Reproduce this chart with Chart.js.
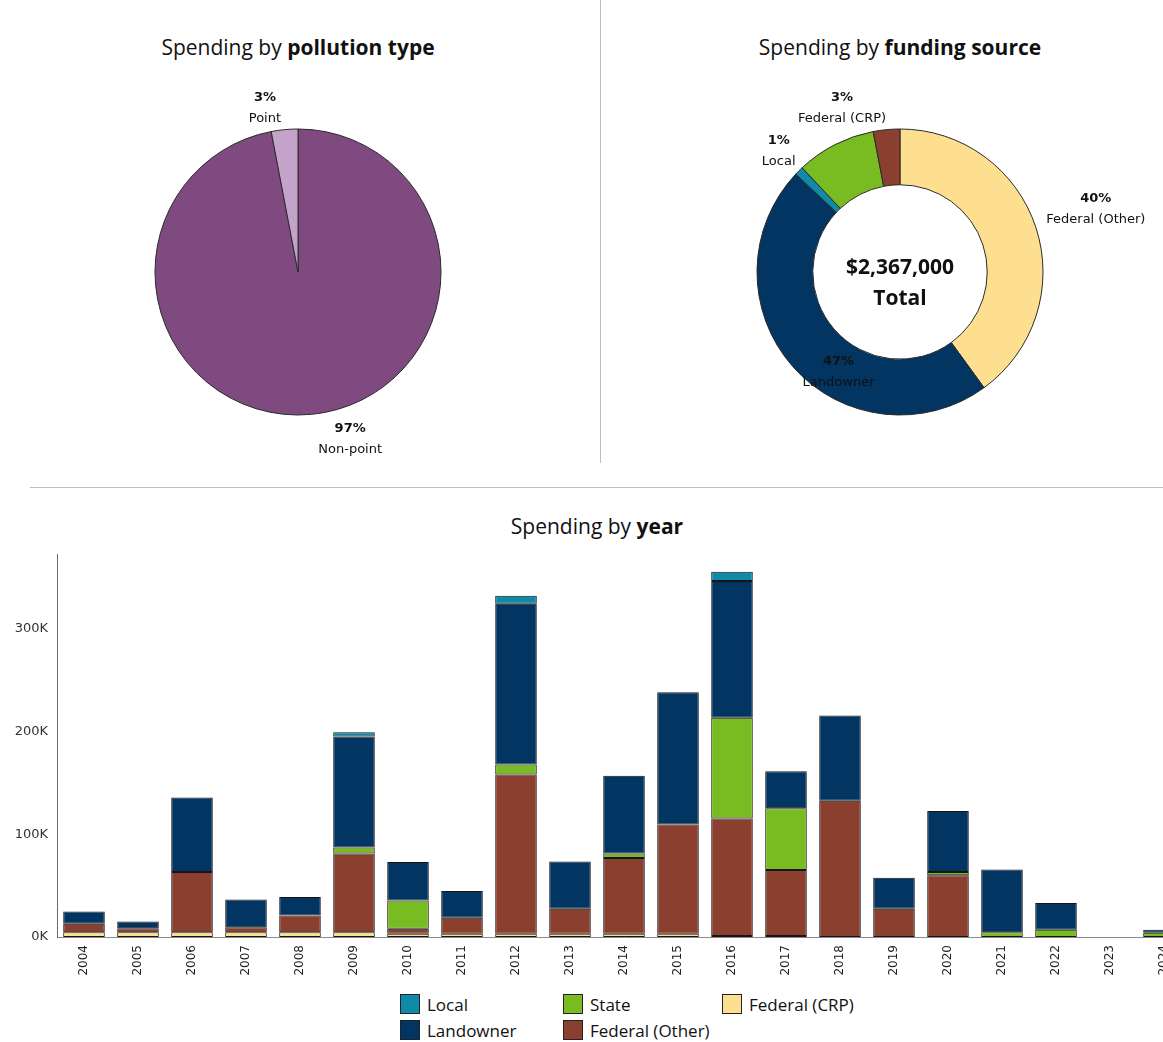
<!DOCTYPE html>
<html>
<head>
<meta charset="utf-8">
<script src="https://cdn.jsdelivr.net/npm/chart.js@4.4.1/dist/chart.umd.min.js"></script>
<style>
  html, body { margin: 0; padding: 0; overflow: hidden; background: #fff; }
  body { width: 1163px; height: 1042px; position: relative; font-family: "Open Sans", sans-serif; color: #111; }
  canvas { position: absolute; }
  .title { position: absolute; font-size: 21px; text-align: center; white-space: nowrap; }
  .title b { font-weight: 700; }
  .vline { position: absolute; left: 600px; top: 0; width: 1px; height: 463px; background: #bdbdbd; }
  .hline { position: absolute; left: 30px; top: 487px; width: 1133px; height: 1px; background: #bdbdbd; }
  #legend { position: absolute; left: 400px; top: 991px; display: grid; grid-template-columns: 163px 159px auto;
            grid-template-rows: 26px 26px; grid-auto-flow: column; font-size: 17px; }
  #legend div { display: flex; align-items: center; }
  #legend span.box { width: 18px; height: 18px; border: 1px solid #222; margin-right: 7px; }
</style>
</head>
<body>
<div class="title" style="left:98px;top:33px;width:400px">Spending by <b>pollution type</b></div>
<div class="title" style="left:700px;top:33px;width:400px">Spending by <b>funding source</b></div>
<div class="title" style="left:397px;top:512px;width:400px">Spending by <b>year</b></div>
<div class="vline"></div>
<div class="hline"></div>

<canvas id="pieChart" width="596" height="544" style="left:0;top:0"></canvas>
<canvas id="donutChart" width="592" height="544" style="left:604px;top:0"></canvas>
<canvas id="barChart" width="1191" height="444" style="left:0;top:538px"></canvas>
<div id="legend"></div>

<script>
// pollution type (percent of spending)
const pollutionLabels = ['Non-point', 'Point'];
const pollutionValues = [97, 3];

// funding source (percent of spending), in the order drawn clockwise from the top
const fundingLabels = ['Federal (Other)', 'Landowner', 'Local', 'State', 'Federal (CRP)'];
const fundingValues = [40, 47, 1, 9, 3];
const totalSpending = 2367000;

// spending by year, thousands of dollars
const years = ['2004', '2005', '2006', '2007', '2008', '2009', '2010', '2011', '2012', '2013', '2014',
               '2015', '2016', '2017', '2018', '2019', '2020', '2021', '2022', '2023', '2024'];
const federalCRP   = [4.7, 4.7, 4.7, 4.7, 4.7, 4.7, 3.1, 3.1, 3.1, 3.1, 3.1, 3.1, 1.0, 1.0, 0, 0, 0, 0, 0, 0, 0];
const federalOther = [8.2, 3.9, 58.5, 4.9, 16.3, 76.5, 4.9, 15.6, 155.1, 24.4, 73.8, 106.3, 114.4, 64.1, 132.7, 27.5, 60, 0, 0, 0, 0];
const state        = [0, 0, 0, 0, 0, 5.9, 27.6, 0, 9.8, 0, 4.3, 0, 98, 60.1, 0, 0, 3.2, 4.7, 7, 0, 4.1];
const landowner    = [12, 6.5, 72.6, 27, 17.9, 108, 37.4, 26, 156.4, 46.1, 75.7, 128.8, 133, 36.1, 82.9, 30.2, 59.5, 60.9, 26, 0, 2.9];
const local        = [0, 0, 0, 0, 0, 4.3, 0, 0, 7.8, 0, 0, 0, 9.1, 0, 0, 0, 0, 0, 0, 0, 0];
const yTicks = [0, 100, 200, 300];

const colors = {
  local: '#0f8aa8',
  landowner: '#023562',
  state: '#78bc22',
  crp: '#fedf8f',
  other: '#8b3f2f'
};

const labelFont = '"DejaVu Sans", sans-serif';

// draws "NN%" + name next to each slice
const sliceLabels = {
  id: 'sliceLabels',
  afterDatasetsDraw(chart, args, opts) {
    const ctx = chart.ctx;
    const values = chart.data.datasets[0].data;
    const total = values.reduce((a, b) => a + b, 0);
    chart.getDatasetMeta(0).data.forEach((arc, i) => {
      const place = opts.place[i];
      if (!place) return;
      const p = arc.getProps(['x', 'y', 'startAngle', 'endAngle', 'outerRadius'], true);
      const a = (p.startAngle + p.endAngle) / 2 + place[1] * Math.PI / 180;
      const lx = p.x + Math.cos(a) * p.outerRadius * place[0];
      const ly = p.y + Math.sin(a) * p.outerRadius * place[0];
      ctx.save();
      ctx.textAlign = 'center';
      ctx.textBaseline = 'middle';
      ctx.fillStyle = '#111';
      ctx.font = 'bold 13px ' + labelFont;
      ctx.fillText(Math.round(values[i] / total * 100) + '%', lx, ly - 10);
      ctx.font = '13px ' + labelFont;
      ctx.fillText(chart.data.labels[i], lx, ly + 11);
      ctx.restore();
    });
  }
};

const centerText = {
  id: 'centerText',
  afterDatasetsDraw(chart) {
    const arc = chart.getDatasetMeta(0).data[0];
    const ctx = chart.ctx;
    ctx.save();
    ctx.textAlign = 'center';
    ctx.textBaseline = 'middle';
    ctx.fillStyle = '#111';
    ctx.font = 'bold 21px "Open Sans", sans-serif';
    ctx.fillText('$' + totalSpending.toLocaleString('en-US'), arc.x, arc.y - 4);
    ctx.fillText('Total', arc.x, arc.y + 27);
    ctx.restore();
  }
};

new Chart(document.getElementById('pieChart'), {
  type: 'pie',
  data: {
    labels: pollutionLabels,
    datasets: [{
      data: pollutionValues,
      backgroundColor: ['#7f4a80', '#c4a3ca'],
      borderColor: '#2a2a2a',
      borderWidth: 1,
      hoverOffset: 0
    }]
  },
  options: {
    responsive: false,
    animation: false,
    radius: 143,
    plugins: {
      legend: { display: false },
      tooltip: { enabled: false },
      sliceLabels: { place: [[1.22, -12], [1.17, -6]] }
    }
  },
  plugins: [sliceLabels]
});

new Chart(document.getElementById('donutChart'), {
  type: 'doughnut',
  data: {
    labels: fundingLabels,
    datasets: [{
      data: fundingValues,
      backgroundColor: [colors.crp, colors.landowner, colors.local, colors.state, colors.other],
      borderColor: '#2a2a2a',
      borderWidth: 1,
      hoverOffset: 0
    }]
  },
  options: {
    responsive: false,
    animation: false,
    radius: 143,
    cutout: '61%',
    plugins: {
      legend: { display: false },
      tooltip: { enabled: false },
      sliceLabels: { place: [[1.44, 0], [0.82, -17], [1.2, 0], null, [1.22, -14]] }
    }
  },
  plugins: [sliceLabels, centerText]
});

const series = [
  { label: 'Federal (CRP)', data: federalCRP, color: colors.crp },
  { label: 'Federal (Other)', data: federalOther, color: colors.other },
  { label: 'State', data: state, color: colors.state },
  { label: 'Landowner', data: landowner, color: colors.landowner },
  { label: 'Local', data: local, color: colors.local }
];

const barChart = new Chart(document.getElementById('barChart'), {
  type: 'bar',
  data: {
    labels: years,
    datasets: series.map(s => ({
      label: s.label,
      data: s.data,
      backgroundColor: s.color,
      borderColor: '#151515',
      borderWidth: 1,
      borderSkipped: false
    }))
  },
  options: {
    responsive: false,
    animation: false,
    layout: { padding: { top: 3 } },
    datasets: { bar: { categoryPercentage: 1, barPercentage: 0.77 } },
    scales: {
      x: {
        stacked: true,
        grid: { display: false, drawTicks: false },
        border: { display: true, color: '#8a8a8a' },
        ticks: { minRotation: 90, maxRotation: 90, autoSkip: false, padding: 8, color: '#222',
                 font: { family: 'DejaVu Sans', size: 12 } },
        afterFit(scale) { scale.height = 45; }
      },
      y: {
        stacked: true,
        min: 0,
        max: 372,
        grid: { display: false, drawTicks: false },
        border: { display: true, color: '#6a6a6a' },
        ticks: { padding: 9, color: '#333', font: { family: 'DejaVu Sans', size: 13 },
                 callback: v => v + 'K' },
        afterBuildTicks(scale) { scale.ticks = yTicks.map(v => ({ value: v })); },
        afterFit(scale) { scale.width = 57; }
      }
    },
    plugins: {
      legend: { display: false },
      tooltip: { enabled: false }
    }
  }
});

// html legend, top-to-bottom stack order, two rows
const legendEl = document.getElementById('legend');
barChart.data.datasets.slice().reverse().forEach(ds => {
  const item = document.createElement('div');
  const box = document.createElement('span');
  box.className = 'box';
  box.style.background = ds.backgroundColor;
  item.appendChild(box);
  item.appendChild(document.createTextNode(ds.label));
  legendEl.appendChild(item);
});
</script>
</body>
</html>
